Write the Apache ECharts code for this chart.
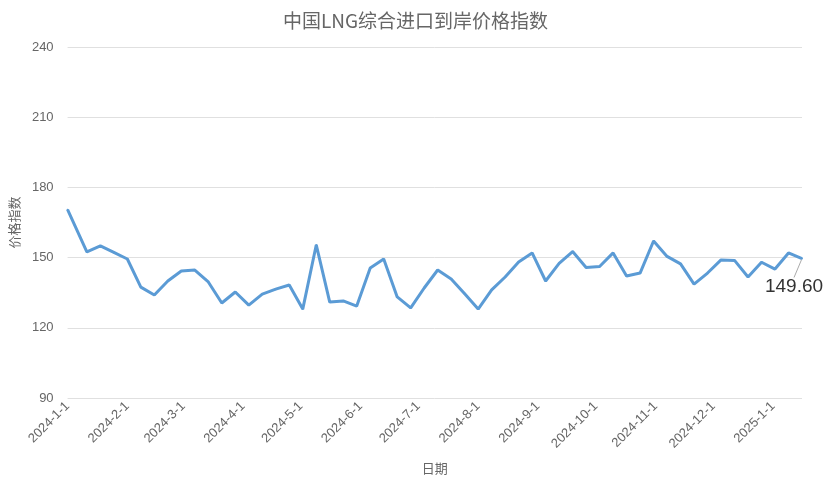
<!DOCTYPE html>
<html>
<head>
<meta charset="utf-8">
<script src="https://cdn.jsdelivr.net/npm/echarts@6/dist/echarts.min.js"></script>
<style>html,body{margin:0;padding:0;background:#fff}#main{width:831px;height:488px}</style>
</head>
<body>
<div id="main"></div>
<script>
// weekly dates (first point 2024-01-01, then weekly from 2024-01-11)
const dates = ['2024-01-01','2024-01-11','2024-01-18','2024-01-25','2024-02-01','2024-02-08','2024-02-15','2024-02-22','2024-02-29','2024-03-07','2024-03-14','2024-03-21','2024-03-28','2024-04-04','2024-04-11','2024-04-18','2024-04-25','2024-05-02','2024-05-09','2024-05-16','2024-05-23','2024-05-30','2024-06-06','2024-06-13','2024-06-20','2024-06-27','2024-07-04','2024-07-11','2024-07-18','2024-07-25','2024-08-01','2024-08-08','2024-08-15','2024-08-22','2024-08-29','2024-09-05','2024-09-12','2024-09-19','2024-09-26','2024-10-03','2024-10-10','2024-10-17','2024-10-24','2024-10-31','2024-11-07','2024-11-14','2024-11-21','2024-11-28','2024-12-05','2024-12-12','2024-12-19','2024-12-26','2025-01-02','2025-01-09','2025-01-16'];
const values = [170.5,152.4,155.0,152.2,149.4,137.4,134.0,140.0,144.3,144.7,139.6,130.6,135.3,129.7,134.4,136.5,138.3,128.0,155.4,131.0,131.5,129.3,145.6,149.4,133.2,128.5,137.0,144.7,140.9,134.5,128.0,136.2,141.7,148.1,152.0,140.0,147.5,152.6,145.8,146.2,152.0,142.1,143.4,157.1,150.5,147.3,138.7,143.4,149.0,148.8,141.7,148.0,145.1,152.0,149.6];
const tickLabels = ['2024-1-1','2024-2-1','2024-3-1','2024-4-1','2024-5-1','2024-6-1','2024-7-1','2024-8-1','2024-9-1','2024-10-1','2024-11-1','2024-12-1','2025-1-1'];

function toTs(s){const p=s.split('-').map(Number);return Date.UTC(p[0],p[1]-1,p[2]);}
function fmt(ts){const d=new Date(ts);return d.getUTCFullYear()+'-'+(d.getUTCMonth()+1)+'-'+d.getUTCDate();}

const lastIdx = values.length-1;
const seriesData = dates.map((d,i)=>{
  const item = {value:[toTs(d), values[i]]};
  if(i===lastIdx){
    item.label = {show:true, position:'bottom', distance:4, formatter:(p)=>p.value[1].toFixed(2), fontSize:19, color:'#333', fontFamily:'Liberation Sans, Arial, sans-serif'};
  }
  return item;
});
const tickTs = tickLabels.map(toTs);

const chart = echarts.init(document.getElementById('main'));
chart.setOption({
  animation:false,
  title:{text:'中国LNG综合进口到岸价格指数', left:'center', top:6, textStyle:{fontSize:19, fontWeight:'normal', color:'#666', fontFamily:'Noto Sans CJK SC'}},
  grid:{left:66, right:29, top:47, bottom:90, containLabel:false},
  xAxis:{
    type:'value', min:toTs(dates[0]), max:toTs(dates[lastIdx]), scale:true,
    name:'日期', nameLocation:'middle', nameGap:64,
    nameTextStyle:{color:'#666', fontSize:13, fontFamily:'Noto Sans CJK SC'},
    axisLine:{show:false}, axisTick:{show:false}, splitLine:{show:false},
    axisLabel:{rotate:45, color:'#666', fontSize:13, margin:6, fontFamily:'Liberation Sans, Arial, sans-serif', customValues:tickTs, formatter:(v)=>fmt(v)}
  },
  yAxis:{
    type:'value', min:90, max:240, interval:30,
    name:'价格指数', nameLocation:'middle', nameGap:42, nameRotate:90,
    nameTextStyle:{color:'#666', fontSize:13, fontFamily:'Noto Sans CJK SC'},
    axisLine:{show:false}, axisTick:{show:false},
    axisLabel:{color:'#666', fontSize:13, margin:14, fontFamily:'Liberation Sans, Arial, sans-serif'},
    splitLine:{lineStyle:{color:'#e0e0e0'}}
  },
  series:[{
    type:'line', data:seriesData, showSymbol:true, symbol:'circle', symbolSize:2,
    lineStyle:{color:'#5b9bd5', width:3}, itemStyle:{color:'#5b9bd5'},
    labelLayout:(p)=> p.dataIndex===lastIdx ? {dx:-8, dy:14} : {},
    labelLine:{show:true, lineStyle:{color:'#aaa', width:1}}
  }]
});
</script>
</body>
</html>
